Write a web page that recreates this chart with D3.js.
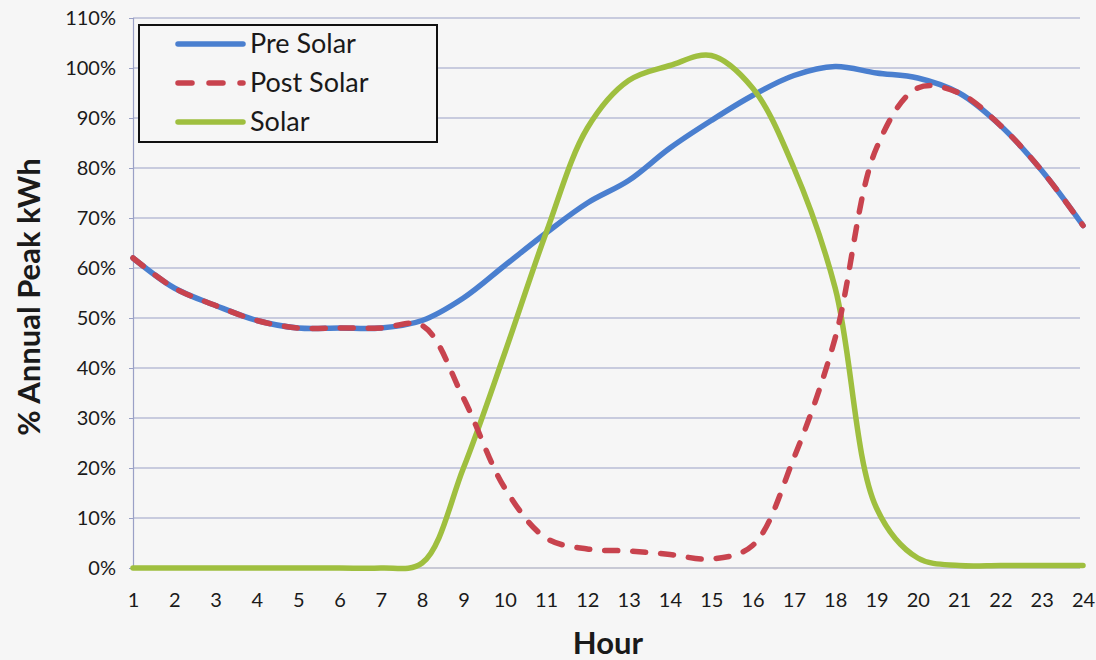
<!DOCTYPE html>
<html><head><meta charset="utf-8">
<script src="https://cdn.jsdelivr.net/npm/d3@7"></script>
<style>
body{margin:0;background:#f6f6f6;}
svg{display:block;}
text{font-family:Lato,"Open Sans",sans-serif;fill:#1a1a1a;}
</style></head><body>
<svg id="c" width="1096" height="660"></svg>
<script>
const hours = [1,2,3,4,5,6,7,8,9,10,11,12,13,14,15,16,17,18,19,20,21,22,23,24];
const preSolar  = [62,56,52.5,49.5,48,48,48,49.5,54,60.5,67,73,77.5,84,89.5,94.5,98.5,100.3,99,98,95,88.5,79.5,68.5];
const postSolar = [62,56,52.5,49.5,48,48,48,48.5,34,16,6,3.8,3.4,2.7,1.8,4.5,22,46,84,96,95,88.5,79.5,68.5];
const solar     = [0,0,0,0,0,0,0,1,20,43,67,88,97.5,100.5,102.5,96,80,56,12,2,0.5,0.5,0.5,0.5];
const yTicks = [0,10,20,30,40,50,60,70,80,90,100,110];
const seriesNames = ["Pre Solar","Post Solar","Solar"];
const colors = ["#4a7fcf","#c8434e","#9fbf3f"];

const svg = d3.select("#c");
const L=133, R=1083, T=18, B=568;
const x = d3.scaleLinear().domain([1,24]).range([L,R]);
const y = d3.scaleLinear().domain([0,110]).range([B,T]);

// gridlines
svg.append("g").selectAll("line").data(yTicks).join("line")
  .attr("x1",L).attr("x2",R-3).attr("y1",d=>y(d)).attr("y2",d=>y(d))
  .attr("stroke",d=>d===0?"#9a9cb4":"#9aa0c6").attr("stroke-width",1.2);

// y axis
const ya = svg.append("g").attr("transform",`translate(${L},0)`)
  .call(d3.axisLeft(y).tickValues(yTicks).tickFormat(d=>d+"%").tickSize(4).tickPadding(13));
ya.select(".domain").attr("stroke","#9aa0c6").attr("stroke-width",1.2);
ya.selectAll(".tick line").attr("stroke","#9aa0c6");
ya.selectAll("text").attr("font-size",20).attr("fill","#1a1a1a");

// x axis
const xa = svg.append("g").attr("transform",`translate(0,${B})`)
  .call(d3.axisBottom(x).tickValues(hours).tickFormat(d3.format("d")).tickSize(0).tickPadding(25));
xa.select(".domain").remove();
xa.selectAll("text").attr("font-size",20).attr("fill","#1a1a1a");

// axis titles
svg.append("text").attr("x",608).attr("y",654).attr("text-anchor","middle")
  .attr("font-size",31).attr("font-weight","bold").text("Hour");
svg.append("text").attr("transform","translate(40,297) rotate(-90)").attr("text-anchor","middle")
  .attr("font-size",31).attr("font-weight","bold").text("% Annual Peak kWh");

const line = d3.line().x((d,i)=>x(hours[i])).y(d=>y(d)).curve(d3.curveCatmullRom.alpha(0.5));
const data = [preSolar, postSolar, solar];
const order = [0,2,1];
order.forEach(k=>{
  svg.append("path").attr("d",line(data[k])).attr("fill","none")
    .attr("stroke",colors[k]).attr("stroke-width",5.5)
    .attr("stroke-linecap","round").attr("stroke-linejoin","round")
    .attr("stroke-dasharray",k===1?"13,15":null);
});

// legend
const lg = svg.append("g");
lg.append("rect").attr("x",139).attr("y",25).attr("width",298).attr("height",117)
  .attr("fill","#f6f6f6").attr("stroke","#111").attr("stroke-width",2);
seriesNames.forEach((n,i)=>{
  const yy = 44 + i*39;
  lg.append("line").attr("x1",178).attr("x2",243).attr("y1",yy).attr("y2",yy)
    .attr("stroke",colors[i]).attr("stroke-width",5.5).attr("stroke-linecap","round")
    .attr("stroke-dasharray",i===1?"14,17":null);
  lg.append("text").attr("x",250).attr("y",yy+9).attr("font-size",27).text(n);
});
</script>
</body></html>
